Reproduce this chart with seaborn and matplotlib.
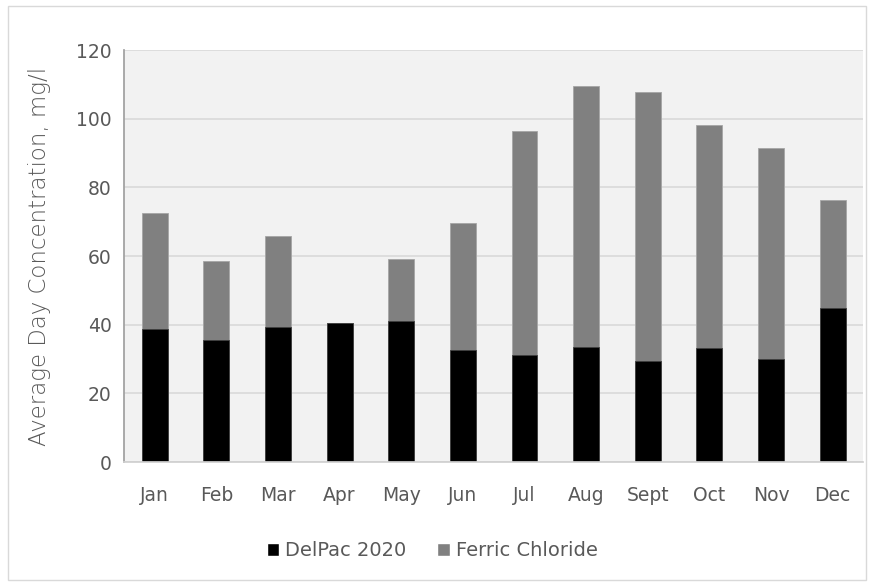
import matplotlib
matplotlib.use('Agg')
import matplotlib.pyplot as plt
import pandas as pd
import seaborn as sns
from matplotlib.patches import Rectangle, Patch

months = ["Jan", "Feb", "Mar", "Apr", "May", "Jun", "Jul", "Aug", "Sept", "Oct", "Nov", "Dec"]
delpac = [38.7, 35.6, 39.4, 40.6, 41.2, 32.6, 31.3, 33.5, 29.4, 33.3, 30.0, 44.9]
total = [72.5, 58.5, 65.9, 40.6, 59.1, 69.6, 96.5, 109.6, 107.7, 98.1, 91.5, 76.4]
ferric = [t - d for t, d in zip(total, delpac)]

df = pd.DataFrame({"Month": months, "DelPac 2020": delpac, "Total": total})

sns.set_theme(style="white")
plt.rcParams['font.family'] = ['DejaVu Sans']
txt = "#595959"

fig = plt.figure(figsize=(8.73, 5.86), dpi=100)
ax = fig.add_axes([0.142, 0.2116, 0.847, 0.703])
ax.set_facecolor("#f2f2f2")
ax.set_axisbelow(True)
ax.yaxis.grid(True, color="#d9d9d9", linewidth=1.2)

# total drawn first (grey), then black DelPac on top
sns.barplot(data=df, x="Month", y="Total", color="#808080", width=0.42,
            saturation=1, ax=ax, edgecolor="#a6a6a6", linewidth=0.6)
sns.barplot(data=df, x="Month", y="DelPac 2020", color="black", width=0.42,
            saturation=1, ax=ax, edgecolor="#404040", linewidth=0.6)

ax.set_ylim(0, 120)
ax.set_yticks(range(0, 121, 20))
ax.set_xlim(-0.5, 11.5)
ax.set_xlabel("")
ax.set_ylabel("Average Day Concentration, mg/l", fontsize=16.5, color=txt,
              labelpad=18, fontweight="light")
ax.tick_params(axis="both", labelsize=13.5, colors=txt, length=0)
ax.tick_params(axis="y", pad=9)
ax.tick_params(axis="x", pad=17)
for s in ["top", "right"]:
    ax.spines[s].set_visible(False)
ax.spines["left"].set_color("#a0a0a0")
ax.spines["bottom"].set_color("#d0d0d0")

handles = [Patch(facecolor="black", label="DelPac 2020"),
           Patch(facecolor="#808080", label="Ferric Chloride")]
fig.legend(handles=handles, loc="center", bbox_to_anchor=(0.495, 0.06), ncol=2,
           frameon=False, fontsize=14, handlelength=0.65, handleheight=0.65,
           handletextpad=0.3, columnspacing=1.6, labelcolor=txt)

fig.patches.append(Rectangle((8 / 873, 6 / 586), 858 / 873, 574 / 586,
                             transform=fig.transFigure, fill=False,
                             edgecolor="#d9d9d9", linewidth=1))

fig.savefig("out.png", dpi=100)
